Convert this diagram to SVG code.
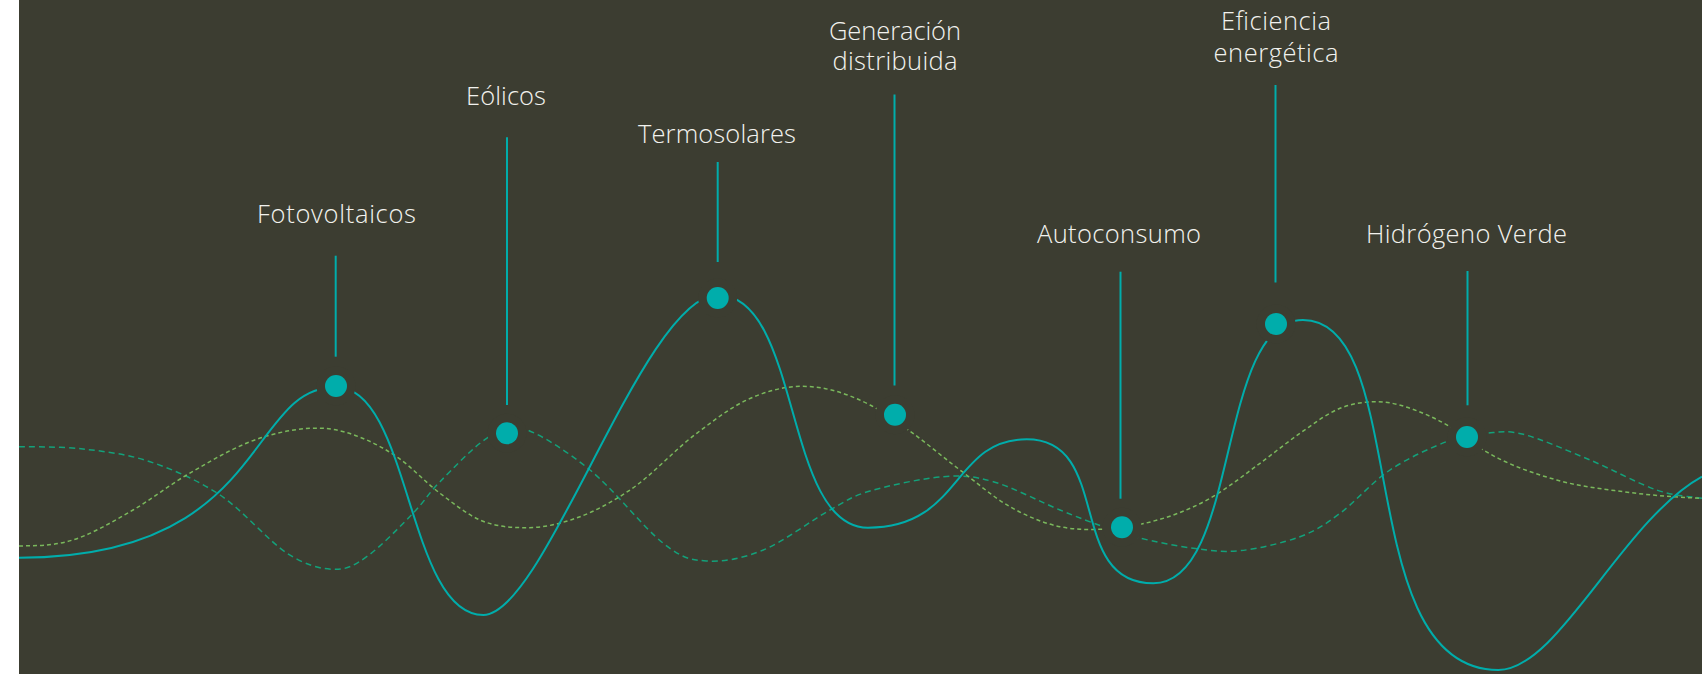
<svg xmlns="http://www.w3.org/2000/svg" width="1702" height="674" viewBox="0 0 1702 674">
<style>
.bg{fill:#3c3d31}
.lbl{font-family:"Open Sans","Liberation Sans",sans-serif;font-weight:300;font-size:25.5px;fill:#f2f2ee;text-anchor:middle}
.stem{stroke:#00adab;stroke-width:2;fill:none}
.halo{fill:#3c3d31}
.dot{fill:#00adab}
.main{fill:none;stroke:#00adab;stroke-width:2}
.dashA{fill:none;stroke:#7ab85c;stroke-width:1.5;stroke-dasharray:4 3}
.dashB{fill:none;stroke:#13a17a;stroke-width:1.5;stroke-dasharray:6 4}
</style>
<rect x="0" y="0" width="1702" height="674" fill="#ffffff"/>
<rect class="bg" x="19" y="0" width="1683" height="674"/>
<g id="connectors">
<path class="dashB" d="M19,446.7 C30,446.8 61.2,446.5 83,449 S127.2,454 150,461.7 S197.2,479.8 220,495 S267.9,540.6 286.7,553 S319.7,568.7 333,569.3 S353.4,566 366.7,556.7 S400.8,525.8 413,513.3 S427.7,494.2 440,481.7 S473,447.3 486.7,438.3 S504.8,422.7 522,428 S566.5,450.8 590,470 S643.9,528.1 663.3,543.3 S690,559.9 706.7,561 S742.8,558.5 763.3,550 S812.2,519.8 830,510 S851.1,496.6 870,491 S922.8,478.3 943.3,476.7 S973.9,476.2 993.3,481.7 S1041.7,502.5 1060,510 S1090.3,522.1 1103.3,526.7 S1123.3,534.1 1138.3,537.7 S1176.4,546.1 1193.3,548.3 S1222.2,552.6 1240,550.7 S1283.3,542.9 1300,536.7 S1325,524.4 1340,513.3 S1372,482.1 1390,470 S1432.2,447.1 1448.3,441 S1474.2,434.4 1486.7,433.3 S1506.1,429.9 1523.3,434.3 S1567.8,450.7 1590,460 S1638,483.6 1656.7,490 S1694.5,496.9 1702,498.3"/>
<path class="dashA" d="M19,546 C34.9,545.68 50.8,545.71 66.7,541.7 C88.8,536.13 110.9,522.69 133,510 C150.9,499.73 168.8,485.49 186.7,475 C213.37,459.37 240.03,443.52 266.7,436 C285.47,430.71 304.23,427.36 323,428.3 C337.57,429.03 352.13,433.6 366.7,440 C376.7,444.39 386.7,449.95 396.7,456.7 C411.13,466.44 425.57,482.43 440,493.3 C453.33,503.34 466.67,514.19 480,520 C495.57,526.79 511.13,527.7 526.7,527.7 C544.47,527.7 562.23,523.36 580,516.7 C596.67,510.45 613.33,501.15 630,490 C652.23,475.13 674.47,449.86 696.7,433.3 C713.37,420.88 730.03,407.82 746.7,400 C762.23,392.72 777.77,388.05 793.3,386.7 C818.87,384.48 844.43,391.83 870,405 C882.77,411.58 895.53,421.01 908.3,430 C925.53,442.13 942.77,457.01 960,470 C976.67,482.57 993.33,497.25 1010,506.7 C1026.67,516.15 1043.33,523.13 1060,526.7 C1073.33,529.55 1086.67,529.69 1100,529.3 C1113.9,528.9 1127.8,527.07 1141.7,524 C1164.47,518.97 1187.23,511.12 1210,498.3 C1226.67,488.91 1243.33,475.44 1260,463.3 C1273.33,453.6 1286.67,442.46 1300,433.3 C1313.33,424.14 1326.67,413.54 1340,408.3 C1352.23,403.49 1364.47,401.7 1376.7,401.7 C1392.23,401.7 1407.77,406.93 1423.3,413.3 C1432.2,416.95 1441.1,421.45 1450,426.7 C1461.1,433.25 1472.2,443.24 1483.3,450 C1507.77,464.9 1532.23,472.98 1556.7,480 C1578.9,486.37 1601.1,488.73 1623.3,491.7 C1649.53,495.21 1675.77,497.25 1702,498.3"/>
<path class="main" d="M19,557.7 C269,557.7 246,387 336,387 C410.7,387 407,615 483.3,615 C544.7,615 644,295 717.7,295 C801.7,295 783,527.7 868,527.7 C962,527.7 951.7,439.3 1026.7,439.3 C1113.1,439.3 1065.3,583.3 1153.3,583.3 C1240.2,583.3 1216.2,320 1303,320 C1412.2,320 1350.8,670 1498.3,670 C1558.3,670 1622,520.7 1702,476.7"/>
</g>
<g id="fotovoltaicos">
<text class="lbl" x="336.5" y="222.7" textLength="159" lengthAdjust="spacing">Fotovoltaicos</text>
<line class="stem" x1="335.7" y1="255.7" x2="335.7" y2="356.7"/>
<circle class="halo" cx="336" cy="386" r="19.5"/>
<circle class="dot" cx="336" cy="386" r="11"/>
</g>
<g id="eolicos">
<text class="lbl" x="506" y="105" textLength="80" lengthAdjust="spacing">Eólicos</text>
<line class="stem" x1="507" y1="137.3" x2="507" y2="405"/>
<circle class="halo" cx="507" cy="433.3" r="19.5"/>
<circle class="dot" cx="507" cy="433.3" r="11"/>
</g>
<g id="termosolares">
<text class="lbl" x="717" y="143" textLength="158" lengthAdjust="spacing">Termosolares</text>
<line class="stem" x1="717.7" y1="162" x2="717.7" y2="262"/>
<circle class="halo" cx="717.7" cy="298" r="19.5"/>
<circle class="dot" cx="717.7" cy="298" r="11"/>
</g>
<g id="generacion">
<text class="lbl" x="895" y="39.5" textLength="132" lengthAdjust="spacing">Generación</text>
<text class="lbl" x="895" y="70" textLength="125" lengthAdjust="spacing">distribuida</text>
<line class="stem" x1="894.5" y1="94.6" x2="894.5" y2="385.6"/>
<circle class="halo" cx="895" cy="414.7" r="19.5"/>
<circle class="dot" cx="895" cy="414.7" r="11"/>
</g>
<g id="autoconsumo">
<text class="lbl" x="1119" y="243" textLength="164" lengthAdjust="spacing">Autoconsumo</text>
<line class="stem" x1="1120.5" y1="271.7" x2="1120.5" y2="498.7"/>
<circle class="halo" cx="1122" cy="527.3" r="19.5"/>
<circle class="dot" cx="1122" cy="527.3" r="11"/>
</g>
<g id="eficiencia">
<text class="lbl" x="1276" y="30" textLength="110" lengthAdjust="spacing">Eficiencia</text>
<text class="lbl" x="1276" y="61.5" textLength="125" lengthAdjust="spacing">energética</text>
<line class="stem" x1="1275.5" y1="85" x2="1275.5" y2="282.5"/>
<circle class="halo" cx="1276" cy="324" r="19.5"/>
<circle class="dot" cx="1276" cy="324" r="11"/>
</g>
<g id="hidrogeno">
<text class="lbl" x="1466.5" y="242.7" textLength="201" lengthAdjust="spacing">Hidrógeno Verde</text>
<line class="stem" x1="1467.5" y1="271" x2="1467.5" y2="405.3"/>
<circle class="halo" cx="1467" cy="437" r="19.5"/>
<circle class="dot" cx="1467" cy="437" r="11"/>
</g>
</svg>
